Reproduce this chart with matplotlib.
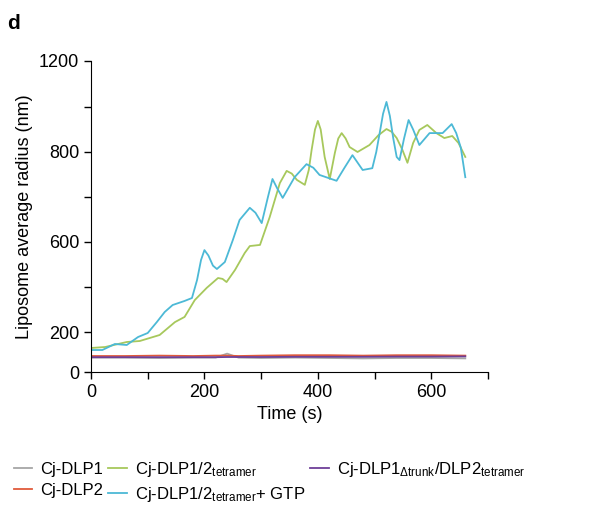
import numpy as np
import matplotlib
matplotlib.use('Agg')
from matplotlib import pyplot as plt

plt.rcParams['font.family'] = ['Liberation Sans', 'DejaVu Sans']
plt.rcParams['mathtext.fontset'] = 'custom'
plt.rcParams['mathtext.rm'] = 'Liberation Sans'
plt.rcParams['mathtext.it'] = 'Liberation Sans:italic'

# flat controls
t_flat = [0, 60, 120, 180, 220, 240, 260, 300, 360, 420, 480, 540, 600, 660]
dlp1 = [72, 72, 70, 72, 72, 92, 72, 70, 72, 70, 68, 70, 70, 68]
dlp2 = [80, 80, 82, 80, 82, 82, 80, 82, 84, 84, 82, 84, 84, 82]
trunk = [74, 74, 74, 74, 74, 75, 75, 75, 76, 76, 76, 77, 77, 78]

# Cj-DLP1/2 tetramer
t_tet = [0, 25, 63, 86, 121, 148, 165, 183, 204, 224, 232, 239, 254, 271, 280,
         298, 315, 333, 345, 354, 363, 377, 384, 389, 395, 400, 405, 412, 421,
         430, 436, 442, 449, 456, 470, 491, 507, 521, 530, 539, 549, 558, 568,
         579, 593, 609, 623, 637, 648, 660]
tet = [120, 125, 150, 155, 185, 244, 267, 342, 396, 440, 436, 422, 476, 551, 582,
       587, 655, 731, 758, 752, 738, 727, 760, 809, 900, 938, 900, 789, 740,
       798, 860, 884, 860, 822, 800, 831, 875, 902, 890, 862, 810, 776, 840,
       898, 920, 884, 862, 871, 840, 789]

# Cj-DLP1/2 tetramer + GTP
t_gtp = [0, 20, 42, 63, 83, 100, 116, 130, 144, 165, 178, 187, 194, 200, 207,
         215, 222, 236, 250, 262, 280, 290, 301, 312, 320, 328, 338, 359, 380,
         392, 403, 433, 447, 461, 479, 496, 503, 509, 515, 521, 527, 533, 539,
         544, 552, 560, 568, 579, 597, 620, 636, 644, 652, 660]
gtp = [110, 110, 140, 135, 175, 195, 244, 289, 320, 338, 351, 431, 520, 564, 540,
       495, 480, 511, 604, 649, 676, 665, 642, 700, 740, 720, 698, 744, 773,
       765, 749, 736, 765, 793, 760, 764, 800, 884, 970, 1022, 960, 860, 789,
       782, 860, 942, 900, 831, 884, 884, 924, 884, 820, 744]

# uneven y axis of the original figure
ytick_vals = [0, 200, 400, 600, 700, 800, 1000, 1200]
ytick_pos = [0, 40, 85, 130, 175, 220, 265, 311]
ytick_labels = ['0', '200', '', '600', '', '800', '', '1200']


def fwd(v):
    return np.interp(v, ytick_vals, ytick_pos)


def inv(p):
    return np.interp(p, ytick_pos, ytick_vals)


fig = plt.figure(figsize=(5.89, 5.23), dpi=100)
ax = fig.add_axes([0.1545, 0.2887, 0.674, 0.5947])
ax.set_yscale('function', functions=(fwd, inv))

ax.plot(t_flat, dlp1, color='#a6a6a6', lw=1.3, label='Cj-DLP1')
ax.plot(t_flat, dlp2, color='#e05a3c', lw=1.3, label='Cj-DLP2')
ax.plot(t_tet, tet, color='#a7c85c', lw=1.3,
        label='Cj-DLP1/2$_{\\mathrm{tetramer}}$')
ax.plot(t_gtp, gtp, color='#4cb9d6', lw=1.3,
        label='Cj-DLP1/2$_{\\mathrm{tetramer}}$+ GTP')
ax.plot(t_flat, trunk, color='#6e3f98', lw=1.3,
        label='Cj-DLP1$_{\\Delta\\mathrm{trunk}}$/DLP2$_{\\mathrm{tetramer}}$')

ax.set_xlim(0, 700)
ax.set_ylim(0, 1200)
ax.set_xticks(range(0, 701, 100))
ax.set_xticklabels(['0', '', '200', '', '400', '', '600', ''])
ax.set_yticks(ytick_vals)
ax.set_yticklabels(ytick_labels)
ax.minorticks_off()
ax.spines['top'].set_visible(False)
ax.spines['right'].set_visible(False)
ax.tick_params(direction='out', length=5, width=1, labelsize=13)

ax.set_xlabel('Time (s)', fontsize=13)
ax.set_ylabel('Liposome average radius (nm)', fontsize=13)

fig.text(0.012, 0.945, 'd', fontsize=15, fontweight='bold')

fig.legend(loc='upper left', bbox_to_anchor=(0.012, 0.134), ncol=3,
           frameon=False, fontsize=12, handlelength=1.1, handletextpad=0.5,
           columnspacing=0.3, labelspacing=0.4, borderaxespad=0)

fig.savefig('out.png', dpi=100)
